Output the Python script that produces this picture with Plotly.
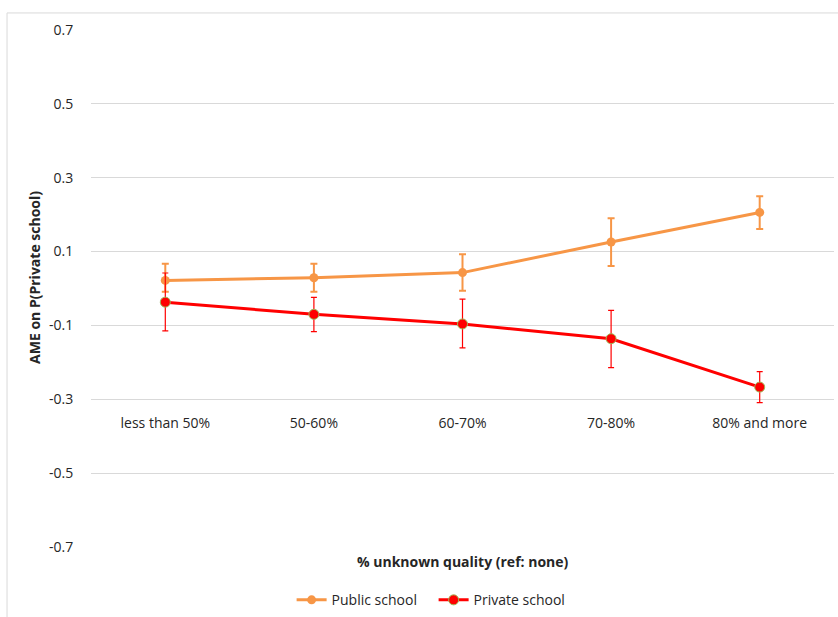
import plotly.graph_objects as go

categories = ["less than 50%", "50-60%", "60-70%", "70-80%", "80% and more"]

public_est = [0.022, 0.029, 0.043, 0.126, 0.206]
public_upper = [0.067, 0.067, 0.093, 0.190, 0.250]
public_lower = [-0.009, -0.009, -0.006, 0.061, 0.161]

private_est = [-0.037, -0.070, -0.096, -0.136, -0.267]
private_upper = [0.042, -0.024, -0.029, -0.059, -0.225]
private_lower = [-0.115, -0.117, -0.161, -0.214, -0.309]

y_ticks = [-0.7, -0.5, -0.3, -0.1, 0.1, 0.3, 0.5, 0.7]
y_tick_text = ["-0.7", "-0.5", "-0.3", "-0.1", "0.1", "0.3", "0.5", "0.7"]

FONT = "Open Sans"
TXT = "#262626"
FS = 14

fig = go.Figure()

fig.add_trace(go.Scatter(
    x=categories, y=public_est, name="Public school", mode="lines+markers",
    line=dict(color="#F79646", width=3),
    marker=dict(color="#F79646", size=9),
    error_y=dict(type="data", symmetric=False,
                 array=[u - e for u, e in zip(public_upper, public_est)],
                 arrayminus=[e - l for e, l in zip(public_est, public_lower)],
                 color="#F79646", thickness=2, width=3.5),
))

fig.add_trace(go.Scatter(
    x=categories, y=private_est, name="Private school", mode="lines+markers",
    line=dict(color="#FF0000", width=3),
    marker=dict(color="#FF0000", size=10, line=dict(color="#9BBB59", width=1)),
    error_y=dict(type="data", symmetric=False,
                 array=[u - e for u, e in zip(private_upper, private_est)],
                 arrayminus=[e - l for e, l in zip(private_est, private_lower)],
                 color="#FF0000", thickness=1.2, width=3),
))

ymin, ymax = -0.7, 0.7
cross = -0.3

fig.update_layout(
    width=838, height=617,
    margin=dict(l=91, r=4, t=30, b=70, autoexpand=False),
    paper_bgcolor="white", plot_bgcolor="white",
    font=dict(family=FONT, size=FS, color=TXT),
    showlegend=True,
    legend=dict(orientation="h", x=0.27, xanchor="left", y=-0.103, yanchor="middle",
                font=dict(family=FONT, size=FS, color=TXT),
                itemwidth=30, entrywidth=97, tracegroupgap=0, bgcolor="rgba(0,0,0,0)"),
    xaxis=dict(type="category", range=[-0.5, 4.5], showgrid=False, zeroline=False,
               showline=False, anchor="free", position=(cross - ymin) / (ymax - ymin),
               ticks="outside", ticklen=11, tickcolor="rgba(0,0,0,0)", automargin=False,
               tickfont=dict(family=FONT, size=FS, color=TXT)),
    yaxis=dict(range=[ymin, ymax], tickvals=y_ticks, ticktext=y_tick_text,
               showgrid=True, gridcolor="#D9D9D9", gridwidth=1, zeroline=False,
               showline=False, ticks="outside", ticklen=14, tickcolor="rgba(0,0,0,0)",
               automargin=False,
               tickfont=dict(family=FONT, size=FS, color=TXT)),
    annotations=[
        dict(text="<b>AME on P(Private school)</b>", xref="paper", yref="paper",
             x=-0.077, y=0.522, xanchor="center", yanchor="middle", textangle=-90,
             showarrow=False, font=dict(family=FONT, size=FS, color=TXT)),
        dict(text="<b>% unknown quality (ref: none)</b>", xref="paper", yref="paper",
             x=0.5, y=-0.028, xanchor="center", yanchor="middle",
             showarrow=False, font=dict(family=FONT, size=FS, color=TXT)),
    ],
    shapes=[
        dict(type="rect", xref="paper", yref="paper", x0=-0.113, x1=1.5, y0=-1, y1=1.033,
             line=dict(color="#D9D9D9", width=1), fillcolor="rgba(0,0,0,0)", layer="below"),
    ],
)

fig.write_html("out.html", config={"displayModeBar": False},
               post_script="document.body.style.margin='0';document.body.style.padding='0';")
